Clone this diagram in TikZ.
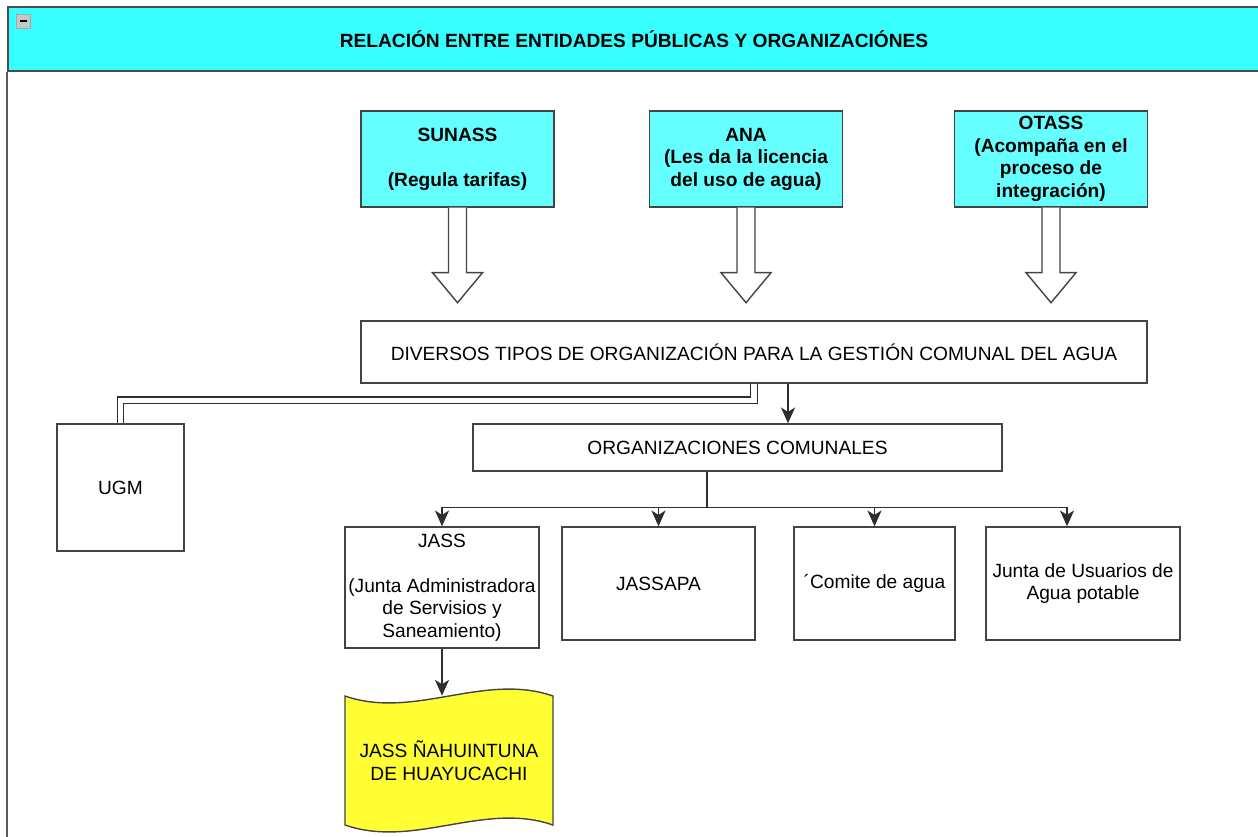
\documentclass[tikz,border=0pt]{standalone}
\usepackage{fontspec}
\setmainfont{Liberation Sans}
\usetikzlibrary{arrows.meta,calc}
\definecolor{headcyan}{HTML}{38FFFF}
\definecolor{lightcyan}{HTML}{66FFFF}
\definecolor{tapeyellow}{HTML}{FFFF33}
\definecolor{linegray}{HTML}{444444}
\definecolor{edgegray}{HTML}{2E2E2E}

\begin{document}
\begin{tikzpicture}[x=0.02cm, y=-0.02cm,
    every node/.style={font=\fontsize{10.9}{12.8}\selectfont, align=center, inner sep=0pt},
    box/.style={draw=linegray, line width=0.8pt, fill=white},
    topbox/.style={box, fill=lightcyan, font=\fontsize{10.9}{12.8}\selectfont\bfseries,
        minimum width=3.86cm, minimum height=1.92cm},
    lowbox/.style={box, minimum height=2.26cm},
    conn/.style={draw=edgegray, line width=0.8pt, -{Stealth[length=9pt,width=8pt,inset=2.5pt]}},
    hollow/.style={draw=linegray, line width=0.8pt, fill=white, line join=miter},
  ]
    \clip (0,0) rectangle (1258,836);

    \node[draw=gray!60!black, line width=0.8pt, fill=headcyan, minimum width=25.04cm, minimum height=1.28cm,
        font=\fontsize{10.9}{12.8}\selectfont\bfseries] (title) at (634,39)
        {RELACIÓN ENTRE ENTIDADES PÚBLICAS Y ORGANIZACIÓNES};
    \draw[gray!70!black, line width=1.1pt] (title.south west) -- ++(0,800);
    \draw[gray!70, fill=gray!45] (16,14) rectangle (30,28);
    \draw[black, line width=1pt] (19.5,21) -- (26.5,21);

    \node[topbox] (sunass) at (457.5,159) {SUNASS\\[12.8pt](Regula tarifas)};
    \node[topbox] (ana) at (746,159) {ANA\\(Les da la licencia\\del uso de agua)};
    \node[topbox] (otass) at (1051,159) {OTASS\\(Acompaña en el\\proceso de\\integración)};

    \foreach \n in {sunass,ana,otass}
        \draw[hollow] (\n.south) ++(-9,0) -- ++(0,65) -- ++(-16,0) -- ++(25,30)
            -- ++(25,-30) -- ++(-16,0) -- ++(0,-65);

    \node[box, minimum width=15.72cm, minimum height=1.24cm] (div) at (754,352)
        {DIVERSOS TIPOS DE ORGANIZACIÓN PARA LA GESTIÓN COMUNAL DEL AGUA};
    \node[box, minimum width=10.58cm, minimum height=0.94cm] (org) at (737.5,447.5)
        {ORGANIZACIONES COMUNALES};
    \node[box, minimum width=2.54cm, minimum height=2.54cm] (ugm) at (120.5,487.5) {UGM};

    \node[box, minimum width=3.88cm, minimum height=2.42cm] (jass) at (442,587.5)
        {JASS\\[12.8pt](Junta Administradora\\de Servisios y\\Saneamiento)};
    \node[lowbox, minimum width=3.86cm] (jassapa) at (658.5,583.5) {JASSAPA};
    \node[lowbox, minimum width=3.22cm] (comite) at (874.5,583.5) {´Comite de agua};
    \node[lowbox, minimum width=3.88cm] (usuarios) at (1083,583.5) {Junta de Usuarios de\\Agua potable};

    \draw[linegray, line width=0.8pt, fill=tapeyellow]
        (345,696) .. controls (414,720) and (484,672) .. (553,696) -- (553,825)
        .. controls (484,801) and (414,849) .. (345,825) -- cycle;
    \node[minimum width=4.16cm, minimum height=2.58cm] (huay) at (449,760.5)
        {JASS ÑAHUINTUNA\\DE HUAYUCACHI};

    \draw[edgegray, line width=0.75pt, double=white, double distance=3pt]
        (div.south) -- ++(0,16.5) -| (ugm.north);
    \draw[conn] (div.south) ++(34,0) coordinate (d) -- (d |- org.north);

    \coordinate (fork) at ($(org.south)+(-30.5,36)$);
    \draw[edgegray, line width=0.8pt] (org.south -| fork) -- (fork);
    \foreach \t in {jass,jassapa,comite}
        \draw[conn] (fork) -| (\t.north);
    \draw[conn] (fork) -| ([xshift=-0.32cm]usuarios.north);

    \draw[conn] (jass.south) -- (jass.south |- huay.north);
\end{tikzpicture}
\end{document}
